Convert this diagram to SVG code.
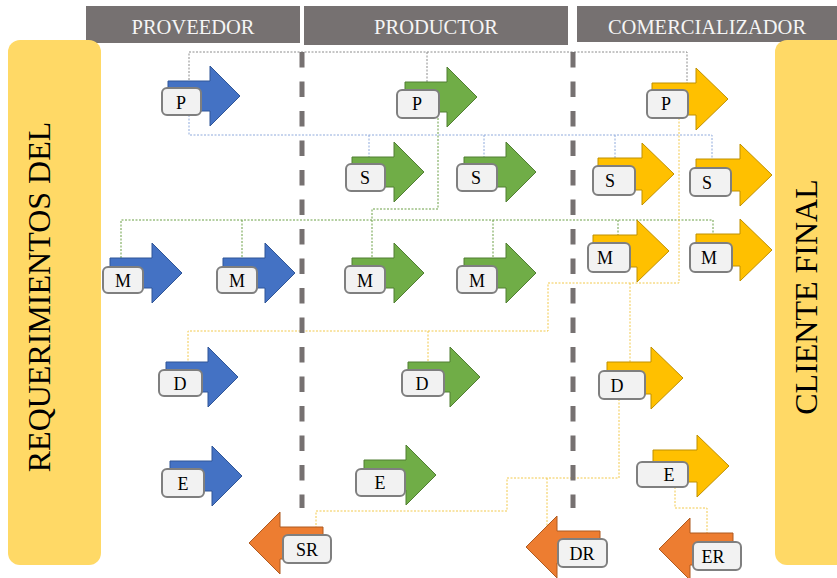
<svg xmlns="http://www.w3.org/2000/svg" xmlns:xlink="http://www.w3.org/1999/xlink" width="837" height="578" viewBox="0 0 837 578">
  <style>
    text { font-family: 'Liberation Serif', 'Times New Roman', Times, serif; }
    .hdr { fill: #767171; }
    .hdr-t { font-size: 20.5px; fill: #f5f5f5; text-anchor: middle; }
    .bar { fill: #FFD966; }
    .bar-t { font-size: 32px; fill: #000; text-anchor: middle; }
    .lane { stroke: #767171; stroke-width: 5; stroke-dasharray: 15.5 14; fill: none; }
    .blue { fill: #4472C4; stroke: #2F5597; stroke-width: 1; }
    .green { fill: #70AD47; stroke: #507E32; stroke-width: 1; }
    .gold { fill: #FFC000; stroke: #BF9000; stroke-width: 1; }
    .orange { fill: #ED7D31; stroke: #AE5A21; stroke-width: 1; }
    .lbl { fill: #F2F2F2; stroke: #7F7F7F; stroke-width: 2; }
    .lbl-t { font-size: 18px; fill: #000; text-anchor: middle; }
    .c { fill: none; stroke-width: 1; stroke-dasharray: 2 1.5; }
    .c-gray { stroke: #8C8C8C; }
    .c-blue { stroke: #8FAADC; }
    .c-green { stroke: #6A9F45; }
    .c-gold { stroke: #F2C94C; }
  </style>
  <defs>
    <!-- block arrows, origin at the left end of the shaft, centred vertically -->
    <path id="arrR" d="M0,-15 H42 V-30 L72,0 L42,30 V15 H0 Z"/>
    <path id="arrRw" d="M0,-16 H44 V-31 L76,0 L44,31 V16 H0 Z"/>
    <!-- left-pointing return arrow, origin at the tip -->
    <path id="arrL" d="M0,0 L31,-31 V-16 H74 V16 H31 V31 Z"/>
  </defs>

  <!-- column headers -->
  <g id="headers">
    <rect class="hdr" x="86" y="6" width="214" height="37"/>
    <text class="hdr-t" x="193" y="34" font-family="Liberation Serif">PROVEEDOR</text>
    <rect class="hdr" x="304" y="6" width="264" height="39"/>
    <text class="hdr-t" x="436" y="34" font-family="Liberation Serif">PRODUCTOR</text>
    <rect class="hdr" x="577" y="6" width="262" height="36"/>
    <text class="hdr-t" x="707" y="34" font-family="Liberation Serif">COMERCIALIZADOR</text>
  </g>

  <!-- side bands -->
  <g id="requerimientos">
    <rect class="bar" x="8" y="40" width="93" height="525" rx="12"/>
    <text class="bar-t" transform="translate(50,297) rotate(-90)" font-family="Liberation Serif">REQUERIMIENTOS DEL</text>
  </g>
  <g id="cliente-final">
    <rect class="bar" x="775" y="40" width="80" height="525" rx="12"/>
    <text class="bar-t" transform="translate(817,297) rotate(-90)" font-family="Liberation Serif">CLIENTE FINAL</text>
  </g>

  <!-- dotted links between stages -->
  <g id="connectors">
    <path class="c c-gray" d="M189,80 V52 H687 V84 M427,52 V82"/>
    <path class="c c-blue" d="M189,115 V135 H712 V161 M369,135 V157 M484,135 V157 M615,135 V158"/>
    <path class="c c-green" d="M438,118 V209 H372 V258 M121,258 V220 H713 V236 M242,220 V258 M493,220 V258 M618,220 V235"/>
    <path class="c c-gold" d="M679,118 V283 H548 V331 H188 V362 M630,283 V363 M428,331 V363 M619,399 V478 H507 V511 H316 V527 M547,478 V531 M675,487 V508 H707 V533"/>
  </g>

  <!-- stage boundaries -->
  <g id="lanes">
    <line class="lane" x1="302" y1="52" x2="302" y2="508"/>
    <line class="lane" x1="573" y1="52" x2="573" y2="508"/>
  </g>

  <!-- proveedor -->
  <g id="prov-p">
    <use xlink:href="#arrR" class="blue" transform="translate(168,96)"/>
    <rect class="lbl" x="162" y="88" width="39" height="27" rx="5"/>
    <text class="lbl-t" x="181" y="109">P</text>
  </g>
  <g id="prov-m1">
    <use xlink:href="#arrR" class="blue" transform="translate(110,273)"/>
    <rect class="lbl" x="103" y="267" width="40" height="26" rx="5"/>
    <text class="lbl-t" x="123" y="287">M</text>
  </g>
  <g id="prov-m2">
    <use xlink:href="#arrR" class="blue" transform="translate(223,273)"/>
    <rect class="lbl" x="217" y="267" width="40" height="26" rx="5"/>
    <text class="lbl-t" x="237" y="287">M</text>
  </g>
  <g id="prov-d">
    <use xlink:href="#arrR" class="blue" transform="translate(166,377)"/>
    <rect class="lbl" x="159" y="370" width="43" height="26" rx="5"/>
    <text class="lbl-t" x="180" y="390">D</text>
  </g>
  <g id="prov-e">
    <use xlink:href="#arrR" class="blue" transform="translate(170,476)"/>
    <rect class="lbl" x="162" y="469" width="42" height="28" rx="5"/>
    <text class="lbl-t" x="183" y="490">E</text>
  </g>

  <!-- productor -->
  <g id="prod-p">
    <use xlink:href="#arrR" class="green" transform="translate(405,97)"/>
    <rect class="lbl" x="397" y="90" width="42" height="28" rx="5"/>
    <text class="lbl-t" x="417" y="110">P</text>
  </g>
  <g id="prod-s1">
    <use xlink:href="#arrR" class="green" transform="translate(352,172)"/>
    <rect class="lbl" x="346" y="164" width="39" height="27" rx="5"/>
    <text class="lbl-t" x="365" y="184">S</text>
  </g>
  <g id="prod-s2">
    <use xlink:href="#arrR" class="green" transform="translate(464,172)"/>
    <rect class="lbl" x="457" y="164" width="40" height="27" rx="5"/>
    <text class="lbl-t" x="476" y="184">S</text>
  </g>
  <g id="prod-m1">
    <use xlink:href="#arrR" class="green" transform="translate(352,273)"/>
    <rect class="lbl" x="345" y="266" width="40" height="27" rx="5"/>
    <text class="lbl-t" x="365" y="287">M</text>
  </g>
  <g id="prod-m2">
    <use xlink:href="#arrR" class="green" transform="translate(464,273)"/>
    <rect class="lbl" x="457" y="266" width="40" height="27" rx="5"/>
    <text class="lbl-t" x="477" y="287">M</text>
  </g>
  <g id="prod-d">
    <use xlink:href="#arrR" class="green" transform="translate(408,377)"/>
    <rect class="lbl" x="402" y="370" width="42" height="26" rx="5"/>
    <text class="lbl-t" x="422" y="390">D</text>
  </g>
  <g id="prod-e">
    <use xlink:href="#arrR" class="green" transform="translate(364,475)"/>
    <rect class="lbl" x="356" y="469" width="49" height="27" rx="5"/>
    <text class="lbl-t" x="380" y="489">E</text>
  </g>

  <!-- comercializador -->
  <g id="com-p">
    <use xlink:href="#arrRw" class="gold" transform="translate(652,99)"/>
    <rect class="lbl" x="647" y="90" width="41" height="28" rx="5"/>
    <text class="lbl-t" x="666" y="110">P</text>
  </g>
  <g id="com-s1">
    <use xlink:href="#arrRw" class="gold" transform="translate(598,174)"/>
    <rect class="lbl" x="593" y="166" width="42" height="29" rx="5"/>
    <text class="lbl-t" x="610" y="187">S</text>
  </g>
  <g id="com-s2">
    <use xlink:href="#arrRw" class="gold" transform="translate(696,175)"/>
    <rect class="lbl" x="690" y="168" width="41" height="28" rx="5"/>
    <text class="lbl-t" x="707" y="189">S</text>
  </g>
  <g id="com-m1">
    <use xlink:href="#arrRw" class="gold" transform="translate(593,251)"/>
    <rect class="lbl" x="588" y="243" width="42" height="29" rx="5"/>
    <text class="lbl-t" x="605" y="264">M</text>
  </g>
  <g id="com-m2">
    <use xlink:href="#arrRw" class="gold" transform="translate(696,250)"/>
    <rect class="lbl" x="690" y="243" width="42" height="29" rx="5"/>
    <text class="lbl-t" x="709" y="264">M</text>
  </g>
  <g id="com-d">
    <use xlink:href="#arrRw" class="gold" transform="translate(607,378)"/>
    <rect class="lbl" x="599" y="371" width="46" height="28" rx="5"/>
    <text class="lbl-t" x="617" y="392">D</text>
  </g>
  <g id="com-e">
    <use xlink:href="#arrRw" class="gold" transform="translate(653,466)"/>
    <rect class="lbl" x="637" y="462" width="51" height="25" rx="5"/>
    <text class="lbl-t" x="669" y="481">E</text>
  </g>

  <!-- returns -->
  <g id="ret-sr">
    <use xlink:href="#arrL" class="orange" transform="translate(249,543)"/>
    <rect class="lbl" x="283" y="535" width="48" height="28" rx="5"/>
    <text class="lbl-t" x="307" y="556">SR</text>
  </g>
  <g id="ret-dr">
    <use xlink:href="#arrL" class="orange" transform="translate(526,547)"/>
    <rect class="lbl" x="558" y="539" width="49" height="28" rx="5"/>
    <text class="lbl-t" x="582" y="560">DR</text>
  </g>
  <g id="ret-er">
    <use xlink:href="#arrL" class="orange" transform="translate(659,549)"/>
    <rect class="lbl" x="693" y="542" width="48" height="28" rx="5"/>
    <text class="lbl-t" x="713" y="563">ER</text>
  </g>
</svg>
